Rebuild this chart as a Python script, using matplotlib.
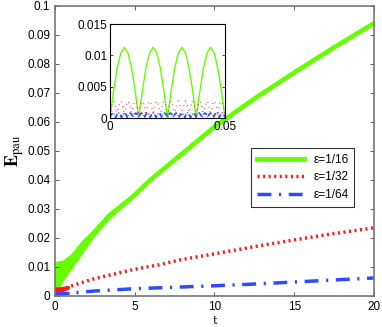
import numpy as np
import matplotlib
matplotlib.use("Agg")
import matplotlib.pyplot as plt

plt.rcParams['font.family'] = ['Liberation Sans', 'DejaVu Sans']
plt.rcParams['mathtext.fontset'] = 'stix'

# main curves
green_t = [0, 0.5, 1, 1.75, 2.4, 3.4, 4.9, 5.9, 7.5, 10, 12.5, 15, 17.5, 20]
green_lo = [0.0, 0.0055, 0.0093, 0.0152, 0.0203, 0.0268, 0.0338, 0.0392, 0.0465, 0.0578, 0.0676, 0.0766, 0.0853, 0.0936]
green_hi = [0.0117, 0.0122, 0.0143, 0.0193, 0.0228, 0.0287, 0.0350, 0.0402, 0.0474, 0.0589, 0.0686, 0.0776, 0.0863, 0.0946]
green_mid_t = [2.4, 3.4, 4.9, 5.9, 7.5, 10, 12.5, 15, 17.5, 20]
green_mid = [0.0216, 0.0278, 0.0344, 0.0397, 0.0470, 0.0584, 0.0681, 0.0771, 0.0858, 0.0941]

red_t = [0, 0.5, 1, 2.5, 5, 6.5, 7.8, 10, 12.5, 15, 17.5, 20]
red_v = [0.0021, 0.0025, 0.0034, 0.006, 0.0092, 0.0107, 0.0124, 0.0145, 0.017, 0.0193, 0.0215, 0.0235]
red_band_t = [0, 0.3, 0.6, 0.9]
red_band_lo = [0.0010, 0.0013, 0.0017, 0.0025]
red_band_hi = [0.0031, 0.0032, 0.0034, 0.0036]

blue_t = [0, 1, 2.5, 5, 7.5, 10, 12.5, 15, 17.5, 20]
blue_v = [0.0005, 0.001, 0.0017, 0.0025, 0.003, 0.0035, 0.0041, 0.0048, 0.0055, 0.0062]
blue_band_t = [0, 0.3, 0.6, 0.9]
blue_band_lo = [0.0, 0.0002, 0.0004, 0.0007]
blue_band_hi = [0.0012, 0.0012, 0.0013, 0.0014]

# inset: early times 0..0.05
arch = [0.0, 0.0043, 0.0080, 0.0104, 0.0113, 0.0104, 0.0080, 0.0043]
inset_green = arch * 4 + [0.0]
inset_green_t = np.linspace(0, 0.05, len(inset_green))
red_arch = [0.0005, 0.0016, 0.0024, 0.0027, 0.0024, 0.0016]
inset_red = red_arch * 16 + [0.0005]
inset_red_t = np.linspace(0, 0.05, len(inset_red))
blue_arch = [0.0001, 0.0006, 0.0008, 0.0006]
inset_blue = blue_arch * 20 + [0.0001]
inset_blue_t = np.linspace(0, 0.05, len(inset_blue))

labels = ['ε=1/16', 'ε=1/32', 'ε=1/64']
green = '#66ff00'
red = '#ff1a1a'
blue = '#2b4cff'

fig = plt.figure(figsize=(3.82, 3.27), dpi=100)
ax = fig.add_axes([0.144, 0.095, 0.835, 0.887])

ax.fill_between(green_t, green_lo, green_hi, color=green, lw=0.8, edgecolor=green)
ax.plot(green_mid_t, green_mid, color=green, lw=3, solid_capstyle='butt')
ax.plot([], [], color=green, lw=3.5, label=labels[0])
ax.fill_between(red_band_t, red_band_lo, red_band_hi, color=red, lw=0)
ax.plot(red_t, red_v, color=red, lw=2.5, ls=(0, (0.6, 1.0)), label=labels[1])
ax.fill_between(blue_band_t, blue_band_lo, blue_band_hi, color=blue, lw=0)
ax.plot(blue_t, blue_v, color=blue, lw=2.5, ls=(0, (4, 2.2, 0.6, 2.2)), label=labels[2])

ax.set_xlim(0, 20)
ax.set_ylim(0, 0.1)
ax.set_xticks([0, 5, 10, 15, 20])
ax.set_yticks(np.arange(0, 0.101, 0.01))
ax.set_yticklabels(['0', '0.01', '0.02', '0.03', '0.04', '0.05', '0.06', '0.07', '0.08', '0.09', '0.1'])
ax.tick_params(direction='in', top=True, right=True, labelsize=8.5, length=3, width=0.6, color='#444444')
for s in ax.spines.values():
    s.set_color('#777777')
    s.set_linewidth(1.2)
ax.set_xlabel('t', family='DejaVu Serif', fontsize=8, labelpad=2)
ax.set_ylabel(r'$\mathbf{E}_{\mathrm{pau}}$', fontsize=13, labelpad=1)

leg = ax.legend(loc='upper left', bbox_to_anchor=(0.595, 0.53), fontsize=8.5, frameon=True,
                fancybox=False, edgecolor='black', handlelength=4.0, borderpad=0.5, labelspacing=0.45)
leg.get_frame().set_linewidth(0.8)

ins = fig.add_axes([0.288, 0.639, 0.301, 0.287])
ins.plot(inset_green_t, inset_green, color=green, lw=1.0)
ins.plot(inset_red_t, inset_red, color=red, lw=1.0, ls=(0, (0.5, 3)))
ins.plot(inset_blue_t, inset_blue, color=blue, lw=1.2, ls=(0, (3, 1, 0.5, 1)))
ins.set_xlim(0, 0.05)
ins.set_ylim(0, 0.015)
ins.set_xticks([0, 0.05])
ins.set_xticklabels(['0', '0.05'])
ins.set_yticks([0, 0.005, 0.01, 0.015])
ins.set_yticklabels(['0', '0.005', '0.01', '0.015'])
ins.tick_params(direction='in', top=True, right=True, labelsize=8.5, length=2, width=0.5, pad=2)
for s in ins.spines.values():
    s.set_linewidth(0.8)

fig.savefig('out.png', dpi=100)
